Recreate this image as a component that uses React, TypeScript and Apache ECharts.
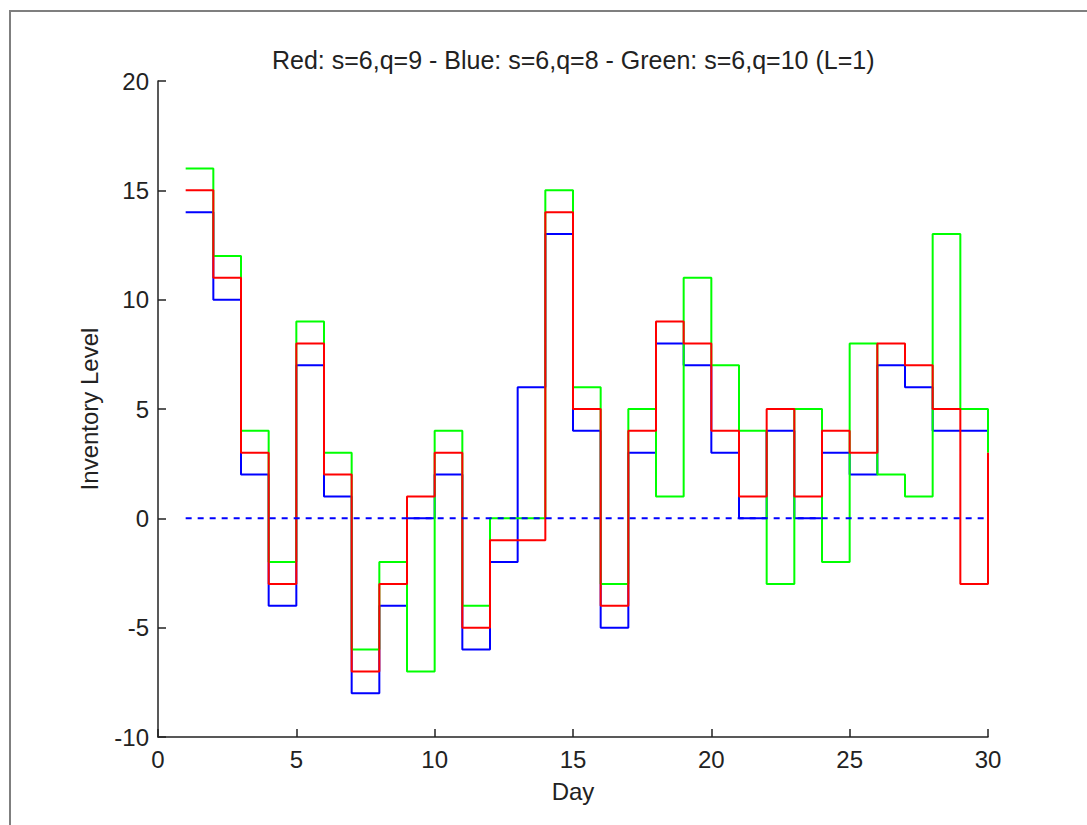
import React, { useEffect, useRef } from "react";
import * as echarts from "echarts";

const days = [1, 2, 3, 4, 5, 6, 7, 8, 9, 10, 11, 12, 13, 14, 15, 16, 17, 18, 19, 20, 21, 22, 23, 24, 25, 26, 27, 28, 29, 30];
const redLevels = [15, 11, 3, -3, 8, 2, -7, -3, 1, 3, -5, -1, -1, 14, 5, -4, 4, 9, 8, 4, 1, 5, 1, 4, 3, 8, 7, 5, -3, 3];
const blueLevels = [14, 10, 2, -4, 7, 1, -8, -4, 0, 2, -6, -2, 6, 13, 4, -5, 3, 8, 7, 3, 0, 4, 0, 3, 2, 7, 6, 4, 4, 4];
const greenLevels = [16, 12, 4, -2, 9, 3, -6, -2, -7, 4, -4, 0, 0, 15, 6, -3, 5, 1, 11, 7, 4, -3, 5, -2, 8, 2, 1, 13, 5, 3];
const zeroLine = [[1, 0], [30, 0]];
const titleText = "Red: s=6,q=9 - Blue: s=6,q=8 - Green: s=6,q=10 (L=1)";

const FONT = "'Liberation Sans', Arial, sans-serif";

export default function App() {
  const ref = useRef<HTMLDivElement>(null);
  useEffect(() => {
    if (!ref.current) return;
    const chart = echarts.init(ref.current, undefined, { renderer: "svg" });
    const pair = (arr: number[]) => days.map((d, i) => [d, arr[i]]);
    const stair = (name: string, color: string, arr: number[], z: number) => ({
      name,
      type: "line",
      step: "end",
      data: pair(arr),
      symbol: "none",
      z,
      lineStyle: { color, width: 2 },
    });
    chart.setOption({
      animation: false,
      backgroundColor: "#ffffff",
      title: {
        text: titleText,
        left: 267,
        top: 42,
        textStyle: { fontFamily: FONT, fontSize: 25, fontWeight: "normal", color: "#222" },
      },
      grid: { left: 158, top: 81, width: 830, height: 656 },
      xAxis: {
        type: "value",
        min: 0,
        max: 30,
        interval: 5,
        name: "Day",
        nameLocation: "middle",
        nameGap: 42,
        nameTextStyle: { fontFamily: FONT, fontSize: 24, color: "#222" },
        axisLine: { show: true, onZero: false, lineStyle: { color: "#222", width: 1.5 } },
        axisTick: { show: true, inside: true, length: 8, lineStyle: { color: "#222", width: 1.5 } },
        axisLabel: { fontFamily: FONT, fontSize: 24, color: "#222", margin: 10 },
        splitLine: { show: false },
      },
      yAxis: {
        type: "value",
        min: -10,
        max: 20,
        interval: 5,
        name: "Inventory Level",
        nameLocation: "middle",
        nameGap: 57,
        nameRotate: 90,
        nameTextStyle: { fontFamily: FONT, fontSize: 24, color: "#222" },
        axisLine: { show: true, onZero: false, lineStyle: { color: "#222", width: 1.5 } },
        axisTick: { show: true, inside: true, length: 8, lineStyle: { color: "#222", width: 1.5 } },
        axisLabel: { fontFamily: FONT, fontSize: 24, color: "#222", margin: 9 },
        splitLine: { show: false },
      },
      graphic: [
        { type: "line", shape: { x1: 9, y1: 11, x2: 1087, y2: 11 }, style: { stroke: "#7f7f7f", lineWidth: 2 } },
        { type: "line", shape: { x1: 10, y1: 10, x2: 10, y2: 825 }, style: { stroke: "#7f7f7f", lineWidth: 2 } },
      ],
      series: [
        stair("Blue", "#0000ff", blueLevels, 2),
        stair("Green", "#00ff00", greenLevels, 3),
        stair("Red", "#ff0000", redLevels, 4),
        {
          name: "Zero",
          type: "line",
          data: zeroLine,
          symbol: "none",
          z: 5,
          lineStyle: { color: "#0000ff", width: 2, type: [6, 6] },
        },
      ],
    });
    return () => chart.dispose();
  }, []);
  return (
    <div
      ref={ref}
      style={{ position: "fixed", left: 0, top: 0, width: 1087, height: 825, background: "#fff" }}
    />
  );
}
